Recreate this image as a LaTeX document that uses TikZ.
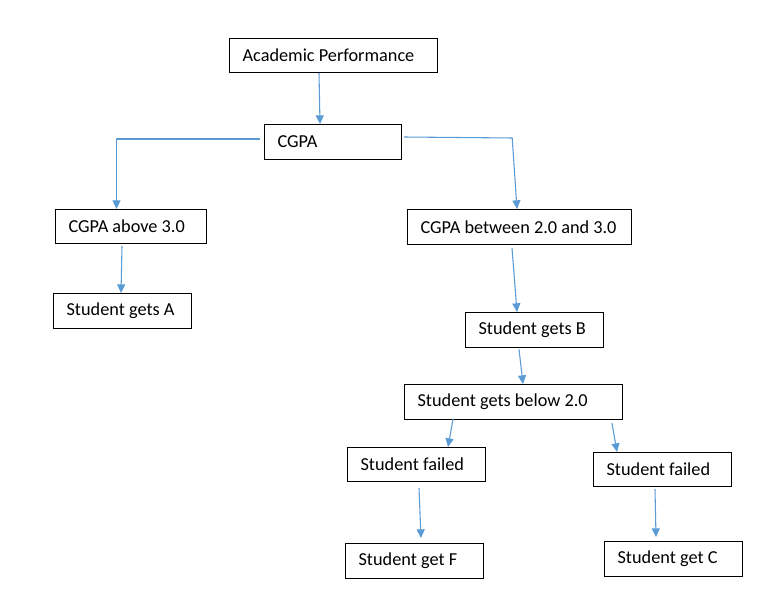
\documentclass[tikz,border=0pt]{standalone}
\usepackage{fontspec}
\setmainfont{Carlito}
\usetikzlibrary{arrows.meta,calc}
\definecolor{arrowblue}{HTML}{5B9BD5}
\newcommand\mkbox[6]{%
  \pgfmathsetmacro\mytw{(#4-26)*0.75}%
  \node[box, minimum width=#4*0.75pt, minimum height=#5*0.75pt] (#1) at (#2,#3) {\makebox[\mytw pt][l]{#6}};}
\begin{document}
\begin{tikzpicture}[x=0.75pt,y=-0.75pt,
  box/.style={draw=black, line width=0.9pt, anchor=north west,
    inner xsep=9.75pt, inner ysep=0pt, font=\fontsize{13.7}{15}\selectfont},
  arr/.style={draw=arrowblue, line width=0.8pt, -{Triangle[length=6.5pt,width=6pt]}}]
\useasboundingbox[fill=white] (0,0) rectangle (770,598);
\mkbox{ap}{229}{38}{208}{34}{Academic Performance}
\mkbox{cgpa}{264}{124}{137}{35}{CGPA}
\mkbox{above}{55}{209}{151}{34}{CGPA above 3.0}
\mkbox{between}{407}{209}{224}{35}{CGPA between 2.0 and 3.0}
\mkbox{ga}{53}{293}{138}{35}{Student gets A}
\mkbox{gb}{465}{312}{138}{35}{Student gets B}
\mkbox{below}{404}{384}{218}{35}{Student gets below 2.0}
\mkbox{failL}{347}{447}{138}{34}{Student failed}
\mkbox{failR}{593}{452}{138}{34}{Student failed}
\mkbox{gf}{345}{543}{138}{35}{Student get F}
\mkbox{gc}{604}{541}{138}{35}{Student get C}
% connectors
\draw[arr] ($(ap.south west)+(90,0)$) -- ($(cgpa.north west)+(56,0)$);
\draw[arr] ($(cgpa.north west)+(-4,15)$) -| ($(above.north west)+(61.5,0)$);
\draw[arr] ($(cgpa.north east)+(2,13)$) -- ++(108,1) -- ($(between.north west)+(110,0)$);
\draw[arr] ($(above.south west)+(67,2)$) -- ($(ga.north west)+(68,0)$);
\draw[arr] ($(between.south west)+(105,3)$) -- ($(gb.north west)+(52,0)$);
\draw[arr] ($(gb.south west)+(54,1)$) -- ($(below.north west)+(119,0)$);
\draw[arr] ($(below.south west)+(49,-1)$) -- ($(failL.north west)+(101,0)$);
\draw[arr] ($(below.south west)+(208,3)$) -- ($(failR.north west)+(24,0)$);
\draw[arr] ($(failL.south west)+(72,6)$) -- ($(gf.north west)+(76,-5)$);
\draw[arr] ($(failR.south west)+(62,2)$) -- ($(gc.north west)+(52,-4)$);
\end{tikzpicture}
\end{document}
